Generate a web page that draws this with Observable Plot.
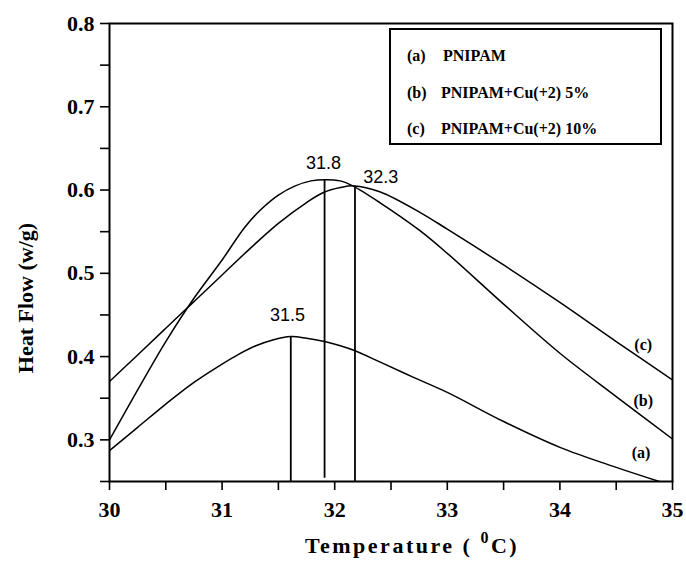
<!DOCTYPE html>
<html>
<head>
<meta charset="utf-8">
<script src="https://cdn.jsdelivr.net/npm/d3@7"></script>
<script src="https://cdn.jsdelivr.net/npm/@observablehq/plot@0.6"></script>
<style>
  body { margin: 0; background: #fff; }
  #wrap { position: relative; width: 686px; height: 562px; background: #fff; }
  #wrap svg { position: absolute; left: 0; top: 0; }
  .ov { position: absolute; font-family: "Liberation Serif", serif; font-weight: bold; color: #000; white-space: nowrap; }
  #legend { left: 389px; top: 28px; width: 269px; height: 113px; border: 2px solid #000; background: #fff; }
  .lg { position: absolute; font-size: 16px; line-height: 16px; }
</style>
</head>
<body>
<div id="wrap"></div>
<script>
// ---- data ----
const tempA = [30, 30.25, 30.5, 30.75, 31, 31.15, 31.3, 31.45, 31.61, 31.75, 31.91, 32.05, 32.18, 32.41, 32.7, 33, 33.5, 34, 34.5, 35];
const flowA = [0.287, 0.315, 0.343, 0.369, 0.391, 0.403, 0.413, 0.420, 0.424, 0.422, 0.418, 0.413, 0.407, 0.393, 0.375, 0.357, 0.322, 0.291, 0.267, 0.245];

const tempB = [30, 30.25, 30.5, 30.75, 31, 31.2, 31.34, 31.5, 31.65, 31.79, 31.91, 32.05, 32.16, 32.4, 32.76, 33, 33.5, 34, 34.5, 35];
const flowB = [0.300, 0.360, 0.418, 0.470, 0.516, 0.555, 0.576, 0.594, 0.605, 0.611, 0.6125, 0.611, 0.605, 0.585, 0.551, 0.524, 0.463, 0.404, 0.352, 0.301];

const tempC = [30, 30.25, 30.5, 30.75, 31, 31.25, 31.5, 31.75, 31.9, 32.05, 32.17, 32.4, 32.76, 33, 33.5, 34, 34.5, 35];
const flowC = [0.370, 0.402, 0.434, 0.466, 0.498, 0.530, 0.560, 0.585, 0.597, 0.603, 0.605, 0.598, 0.573, 0.553, 0.510, 0.465, 0.418, 0.372];

const peakTemp = [31.61, 31.91, 32.18];
const peakFlow = [0.424, 0.6125, 0.605];
const peakBase = [0.25, 0.254, 0.25];
const peakText = ["31.5", "31.8", "32.3"];
const peakLabelX = [31.58, 31.90, 32.41];
const peakLabelY = [0.450, 0.632, 0.615];

const curveLabel = ["(a)", "(b)", "(c)"];
const curveLabelX = [34.72, 34.74, 34.74];
const curveLabelY = [0.284, 0.347, 0.414];

const legendTags = ["(a)", "(b)", "(c)"];
const legendNames = ["PNIPAM", "PNIPAM+Cu(+2) 5%", "PNIPAM+Cu(+2) 10%"];

const xTicks = [30, 31, 32, 33, 34, 35];
const xMinor = [30.5, 31.5, 32.5, 33.5, 34.5];
const yTicks = [0.3, 0.4, 0.5, 0.6, 0.7, 0.8];
const yMinor = [0.25, 0.35, 0.45, 0.55, 0.65, 0.75];

const xTitle = "Temperature (";
const yTitle = "Heat Flow (w/g)";

// ---- tables ----
const rows = (t, f, s) => t.map((d, i) => ({t: d, f: f[i], s}));
const curves = [...rows(tempA, flowA, "a"), ...rows(tempB, flowB, "b"), ...rows(tempC, flowC, "c")];
const peaks = peakTemp.map((t, i) => ({t, f: peakFlow[i], base: peakBase[i], text: peakText[i], lx: peakLabelX[i], ly: peakLabelY[i]}));
const clabels = curveLabel.map((c, i) => ({c, x: curveLabelX[i], y: curveLabelY[i]}));

const serif = "Liberation Serif";
const chart = Plot.plot({
  width: 686, height: 562,
  marginLeft: 109, marginRight: 14, marginTop: 23, marginBottom: 81,
  x: {domain: [30, 35]},
  y: {domain: [0.25, 0.8]},
  style: {background: "white", color: "black", fontFamily: serif},
  marks: [
    Plot.axisX({ticks: xTicks, tickSize: 9, tickPadding: 11, fontSize: 22, fontWeight: "bold", label: null, tickFormat: d => String(d), strokeWidth: 1.6}),
    Plot.axisX({ticks: xMinor, tickSize: 9, text: null, label: null, strokeWidth: 1.6}),
    Plot.axisY({ticks: yTicks, tickSize: 9, tickPadding: 6, fontSize: 22, fontWeight: "bold", label: null, tickFormat: d => d.toFixed(1), strokeWidth: 1.6}),
    Plot.axisY({ticks: yMinor, tickSize: 9, text: null, label: null, strokeWidth: 1.6}),
    Plot.line(curves, {x: "t", y: "f", z: "s", stroke: "black", strokeWidth: 1.5, curve: "catmull-rom", clip: true}),
    Plot.ruleX(peaks, {x: "t", y1: "base", y2: "f", stroke: "black", strokeWidth: 1.8}),
    Plot.text(peaks, {x: "lx", y: "ly", text: "text", fontFamily: "Liberation Sans", fontSize: 18, fill: "black"}),
    Plot.text(clabels, {x: "x", y: "y", text: "c", fontFamily: serif, fontWeight: "bold", fontSize: 16, fill: "black"}),
    Plot.frame({stroke: "black", strokeWidth: 2})
  ]
});

const wrap = document.getElementById("wrap");
wrap.appendChild(chart);

// legend box
const lg = document.createElement("div");
lg.id = "legend"; lg.className = "ov";
legendTags.forEach((tag, i) => {
  const a = document.createElement("span");
  a.className = "lg"; a.textContent = tag;
  a.style.left = "16px"; a.style.top = (18 + i * 36.5) + "px";
  const b = document.createElement("span");
  b.className = "lg"; b.textContent = legendNames[i];
  b.style.left = (i === 0 ? 52 : 50) + "px"; b.style.top = (18 + i * 36.5) + "px";
  lg.appendChild(a); lg.appendChild(b);
});
wrap.appendChild(lg);

// y title
const yt = document.createElement("div");
yt.className = "ov"; yt.textContent = yTitle;
yt.style.fontSize = "22px";
yt.style.left = "26px"; yt.style.top = "298px";
yt.style.transform = "translate(-50%, -50%) rotate(-90deg)";
wrap.appendChild(yt);

// x title
const xt = document.createElement("div");
xt.className = "ov";
xt.style.fontSize = "22px"; xt.style.letterSpacing = "2.5px";
xt.style.left = "412px"; xt.style.top = "533px";
xt.style.transform = "translateX(-50%)";
xt.appendChild(document.createTextNode(xTitle + " "));
const sup = document.createElement("span");
sup.textContent = "0"; sup.style.fontSize = "16px"; sup.style.position = "relative"; sup.style.top = "-10px";
xt.appendChild(sup);
xt.appendChild(document.createTextNode("C)"));
wrap.appendChild(xt);
</script>
</body>
</html>
